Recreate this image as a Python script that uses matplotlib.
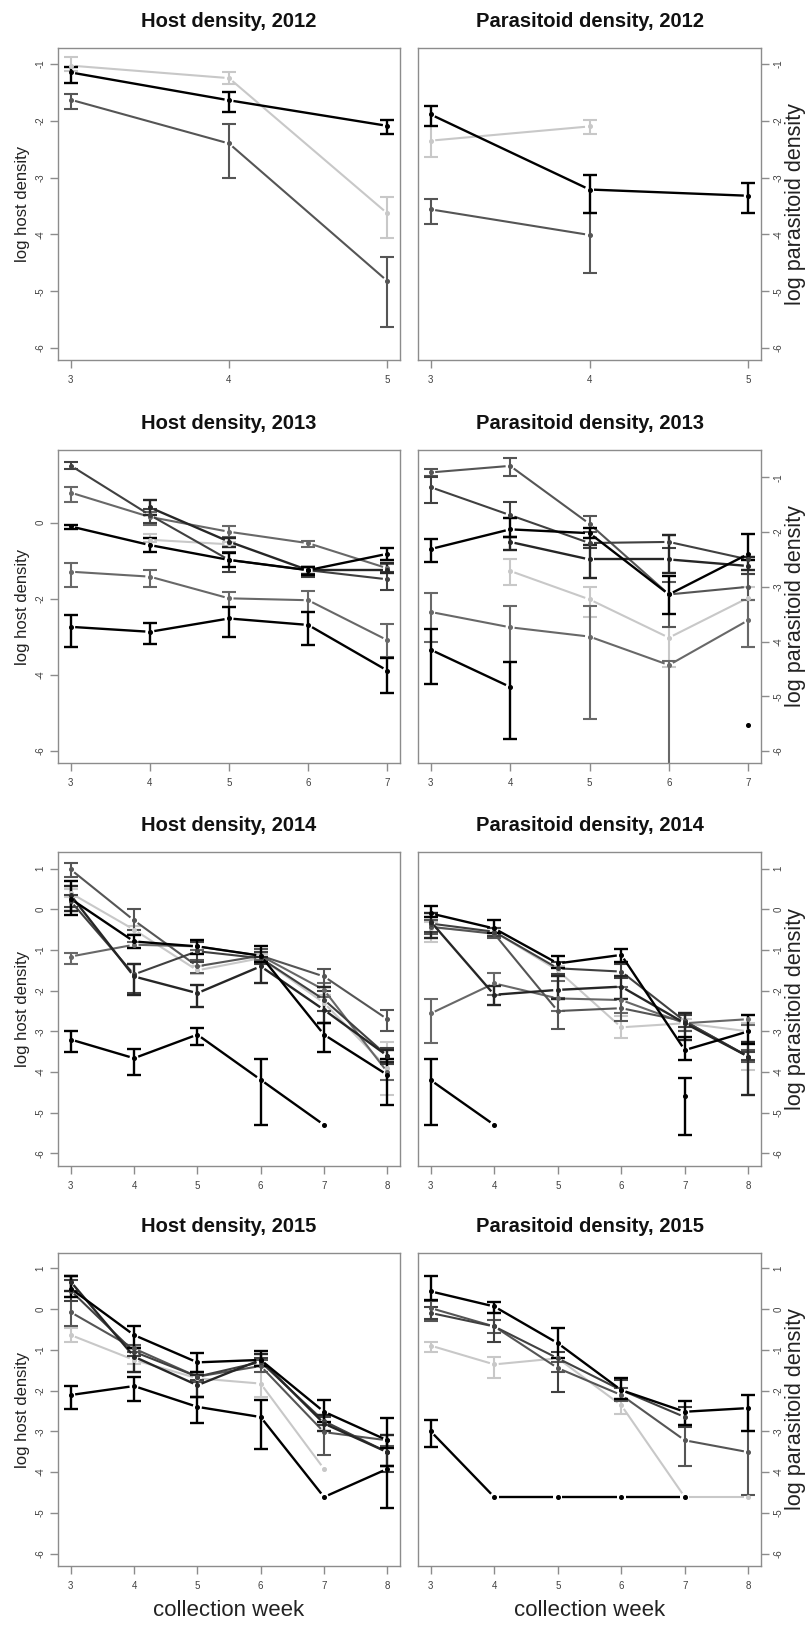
import numpy as np
import matplotlib
matplotlib.use("Agg")
import matplotlib.pyplot as plt
from matplotlib.collections import LineCollection

nan = np.nan
plt.rcParams['font.family'] = ['Liberation Sans', 'DejaVu Sans']
plt.rcParams['axes.unicode_minus'] = False

LIGHT, MED, MID, DARK, VDARK, BLACK = '#c8c8c8', '#686868', '#555555', '#404040', '#262626', '#000000'

# ---------------- 2012 ----------------
H12_weeks = [3, 4, 5]
H12_colors = [LIGHT, MID, BLACK]
H12_mean = [[-1.03, -1.25, -3.63], [-1.63, -2.40, -4.82], [-1.15, -1.64, -2.09]]
H12_lo = [[-1.13, -1.35, -4.07], [-1.80, -3.00, -5.63], [-1.33, -1.84, -2.24]]
H12_hi = [[-0.88, -1.15, -3.35], [-1.53, -2.05, -4.39], [-1.05, -1.49, -1.98]]

P12_weeks = [3, 4, 5]
P12_colors = [LIGHT, MID, BLACK]
P12_mean = [[-2.35, -2.10, nan], [-3.56, -4.01, nan], [-1.89, -3.21, -3.32]]
P12_lo = [[-2.63, -2.23, nan], [-3.82, -4.68, nan], [-2.10, -3.62, -3.62]]
P12_hi = [[-2.10, -1.98, nan], [-3.37, -3.62, nan], [-1.74, -2.95, -3.10]]

# ---------------- 2013 ----------------
H13_weeks = [3, 4, 5, 6, 7]
H13_colors = [LIGHT, MED, MED, DARK, VDARK, BLACK, BLACK]
H13_mean = [[nan, -0.45, -0.57, nan, nan],
            [0.79, 0.15, -0.24, -0.54, -1.20],
            [-1.29, -1.42, -1.99, -2.04, -3.09],
            [1.50, 0.20, -0.98, -1.25, -1.49],
            [nan, 0.40, -0.50, -1.25, -1.25],
            [-0.10, -0.59, -0.98, -1.25, -0.82],
            [-2.74, -2.87, -2.52, -2.69, -3.89]]
H13_lo = [[nan, -0.50, -0.62, nan, nan],
          [0.55, -0.06, -0.37, -0.63, -1.30],
          [-1.68, -1.70, -2.23, -2.34, -3.53],
          [1.40, 0.00, -1.29, -1.42, -1.77],
          [nan, 0.20, -0.63, -1.35, -1.33],
          [-0.18, -0.78, -1.16, -1.38, -0.98],
          [-3.26, -3.20, -3.00, -3.22, -4.49]]
H13_hi = [[nan, -0.30, -0.52, nan, nan],
          [0.95, 0.29, -0.10, -0.47, -1.10],
          [-1.05, -1.25, -1.82, -1.79, -2.67],
          [1.60, 0.35, -0.76, -1.16, -1.30],
          [nan, 0.60, -0.41, -1.16, -1.05],
          [-0.06, -0.41, -0.80, -1.16, -0.66],
          [-2.43, -2.65, -2.23, -2.36, -3.55]]

P13_weeks = [3, 4, 5, 6, 7]
P13_colors = [LIGHT, MID, MED, DARK, VDARK, BLACK, BLACK]
P13_mean = [[nan, -2.71, -3.23, -3.93, -3.20],
            [-0.91, -0.79, -1.85, -3.14, -3.00],
            [-3.46, -3.74, -3.91, -4.43, -3.61],
            [-1.18, -1.69, -2.20, -2.18, -2.50],
            [nan, -2.18, -2.50, -2.50, -2.62],
            [-2.31, -1.95, -2.02, -3.14, -2.40],
            [-4.15, -4.83, nan, nan, -5.53]]
P13_lo = [[nan, -2.97, -3.55, -4.46, -4.10],
          [-0.98, -0.98, -1.99, -3.73, -3.24],
          [-4.00, -4.38, -5.41, -6.40, -4.10],
          [-1.46, -1.75, -2.30, -2.30, -2.76],
          [nan, -2.33, -2.84, -2.74, -2.70],
          [-2.55, -2.09, -2.10, -3.50, -2.51],
          [-4.77, -5.79, nan, nan, nan]]
P13_hi = [[nan, -2.50, -3.00, -3.73, -3.00],
          [-0.85, -0.65, -1.71, -2.91, -2.76],
          [-3.11, -3.35, -3.35, -4.35, -3.24],
          [-0.99, -1.45, -2.10, -2.05, -2.45],
          [nan, -2.09, -2.24, -2.05, -2.45],
          [-2.13, -1.75, -1.92, -2.80, -2.04],
          [-3.77, -4.38, nan, nan, nan]]

# ---------------- 2014 ----------------
H14_weeks = [3, 4, 5, 6, 7, 8]
H14_colors = [LIGHT, MED, MID, DARK, VDARK, BLACK, BLACK]
H14_mean = [[0.40, -0.50, -1.50, -1.20, -2.30, -3.90],
            [-1.16, -0.87, -0.91, -1.14, -1.98, -4.00],
            [0.98, -0.27, -1.40, -1.14, -1.65, -2.70],
            [0.20, -1.60, -1.03, -1.20, -2.22, -3.60],
            [0.35, -1.65, -2.06, -1.40, -2.47, -3.60],
            [0.26, -0.79, -0.91, -1.14, -3.08, -4.07],
            [-3.20, -3.66, -3.08, -4.19, -5.30, nan]]
H14_lo = [[0.30, -0.60, -1.60, -1.30, -2.50, -4.56],
          [-1.34, -0.95, -1.00, -1.25, -2.15, -4.20],
          [0.80, -0.50, -1.57, -1.30, -1.90, -3.00],
          [0.05, -2.05, -1.30, -1.35, -2.50, -3.80],
          [-0.05, -2.10, -2.39, -1.81, -2.80, -3.75],
          [-0.13, -0.95, -1.11, -1.30, -3.50, -4.80],
          [-3.51, -4.07, -3.33, -5.30, nan, nan]]
H14_hi = [[0.50, -0.40, -1.40, -1.10, -2.10, -3.25],
          [-1.07, -0.80, -0.80, -1.05, -1.80, -3.80],
          [1.14, 0.00, -1.24, -0.98, -1.47, -2.48],
          [0.35, -1.35, -0.80, -1.05, -2.00, -3.40],
          [0.57, -1.34, -1.85, -1.16, -1.90, -3.45],
          [0.69, -0.62, -0.75, -0.90, -2.80, -3.68],
          [-3.00, -3.43, -2.92, -3.68, nan, nan]]

P14_weeks = [3, 4, 5, 6, 7, 8]
P14_colors = [LIGHT, MED, MID, DARK, VDARK, BLACK, BLACK]
P14_mean = [[-0.45, -0.55, -1.50, -2.90, -2.80, -3.00],
            [-2.56, -1.82, -2.19, -2.23, -2.80, -2.70],
            [-0.43, -0.60, -2.50, -2.43, -2.75, -3.62],
            [-0.35, -0.55, -1.45, -1.53, -2.75, -3.62],
            [-0.30, -2.10, -1.98, -1.90, -2.80, -3.62],
            [-0.10, -0.47, -1.33, -1.12, -3.46, -3.00],
            [-4.20, -5.30, nan, nan, -4.60, nan]]
P14_lo = [[-0.80, -0.65, -1.60, -3.17, -2.90, -3.95],
          [-3.28, -2.10, -2.50, -2.55, -3.00, -2.85],
          [-0.60, -0.70, -2.93, -2.75, -3.00, -3.75],
          [-0.55, -0.65, -1.60, -1.70, -2.90, -3.70],
          [-0.70, -2.35, -2.20, -2.20, -3.20, -4.56],
          [-0.18, -0.59, -1.45, -1.29, -3.70, -3.30],
          [-5.30, nan, nan, nan, -5.55, nan]]
P14_hi = [[-0.30, -0.45, -1.40, -2.63, -2.70, -2.80],
          [-2.21, -1.57, -1.75, -1.90, -2.60, -2.60],
          [-0.25, -0.45, -2.19, -2.20, -2.55, -3.45],
          [-0.20, -0.45, -1.30, -1.35, -2.60, -3.50],
          [-0.10, -1.89, -1.65, -1.65, -2.55, -3.25],
          [0.08, -0.26, -1.15, -0.98, -3.13, -2.60],
          [-3.68, nan, nan, nan, -4.15, nan]]

# ---------------- 2015 ----------------
H15_weeks = [3, 4, 5, 6, 7, 8]
H15_colors = [LIGHT, MID, DARK, VDARK, BLACK, BLACK]
H15_mean = [[-0.64, -1.25, -1.70, -1.83, -3.92, nan],
            [-0.08, -0.97, -1.66, -1.40, -3.02, -3.22],
            [0.45, -1.05, -1.66, -1.30, -2.75, -3.51],
            [0.67, -1.17, -1.87, -1.25, -2.81, -3.51],
            [0.50, -0.64, -1.31, -1.25, -2.52, -3.22],
            [-2.11, -1.89, -2.40, -2.65, -4.61, -3.92]]
H15_lo = [[-0.80, -1.35, -1.80, -2.16, nan, nan],
          [-0.43, -1.05, -1.80, -1.55, -3.59, -3.35],
          [0.20, -1.15, -1.75, -1.40, -2.85, -4.00],
          [0.43, -1.54, -2.16, -1.40, -3.00, -3.84],
          [0.30, -0.97, -1.54, -1.40, -2.77, -3.40],
          [-2.46, -2.26, -2.80, -3.44, nan, -4.88]]
H15_hi = [[-0.48, -1.15, -1.60, -1.54, nan, nan],
          [0.28, -0.88, -1.55, -1.25, -2.84, -3.10],
          [0.70, -0.95, -1.55, -1.20, -2.65, -3.40],
          [0.81, -0.95, -1.61, -1.10, -2.60, -3.10],
          [0.81, -0.42, -1.07, -1.03, -2.22, -2.67],
          [-1.89, -1.66, -2.16, -2.24, nan, -3.85]]

P15_weeks = [3, 4, 5, 6, 7, 8]
P15_colors = [LIGHT, MID, DARK, BLACK, BLACK]
P15_mean = [[-0.90, -1.36, -1.21, -2.36, -4.61, -4.61],
            [0.02, -0.43, -1.45, -2.11, -3.22, -3.51],
            [-0.10, -0.43, -1.21, -1.99, -2.65, nan],
            [0.43, 0.06, -0.84, -1.99, -2.52, -2.43],
            [-3.00, -4.61, -4.61, -4.61, -4.61, nan]]
P15_lo = [[-1.05, -1.69, nan, -2.57, nan, nan],
          [-0.30, -0.60, -1.55, -2.25, -3.85, -4.57],
          [-0.25, -0.80, -2.03, -2.20, -2.90, nan],
          [0.22, -0.10, -1.21, -2.20, -2.85, -2.99],
          [-3.39, nan, nan, nan, nan, nan]]
P15_hi = [[-0.80, -1.17, nan, -2.20, nan, nan],
          [0.20, -0.27, -1.30, -1.95, -2.84, -2.99],
          [0.05, -0.10, -1.05, -1.75, -2.40, nan],
          [0.80, 0.16, -0.48, -1.69, -2.26, -2.10],
          [-2.73, nan, nan, nan, nan, nan]]

YEARS = ['2012', '2013', '2014', '2015']
HOST = [(H12_weeks, H12_colors, H12_mean, H12_lo, H12_hi),
        (H13_weeks, H13_colors, H13_mean, H13_lo, H13_hi),
        (H14_weeks, H14_colors, H14_mean, H14_lo, H14_hi),
        (H15_weeks, H15_colors, H15_mean, H15_lo, H15_hi)]
PARA = [(P12_weeks, P12_colors, P12_mean, P12_lo, P12_hi),
        (P13_weeks, P13_colors, P13_mean, P13_lo, P13_hi),
        (P14_weeks, P14_colors, P14_mean, P14_lo, P14_hi),
        (P15_weeks, P15_colors, P15_mean, P15_lo, P15_hi)]

# ---------------- layout ----------------
W, H = 807, 1627
fig = plt.figure(figsize=(W / 100, H / 100), dpi=100)
COLS = [(58, 400), (418, 761)]
ROWS = [(48, 360), (450, 763), (852, 1166), (1253, 1566)]
HOST_YLIM = [(-6.21, -0.72), (-6.32, 1.91), (-6.31, 1.41), (-6.30, 1.37)]
PARA_YLIM = [(-6.21, -0.72), (-6.22, -0.50), (-6.31, 1.41), (-6.30, 1.37)]
HOST_YT = [range(-6, 0), range(-6, 1, 2), range(-6, 2), range(-6, 2)]
PARA_YT = [range(-6, 0), range(-6, 0), range(-6, 2), range(-6, 2)]

AXC = '#8c8c8c'
GAP = 4.5


def draw_panel(ax, data, ylim, yticks, right, title, ylabel, bottom):
    weeks, colors, means, los, his = data
    x = np.array(weeks, float)
    span = x[-1] - x[0]
    ax.set_xlim(x[0] - 0.04 * span, x[-1] + 0.04 * span)
    ax.set_ylim(*ylim)
    trans = ax.transData
    inv = trans.inverted()
    for c, m, lo, hi in zip(colors, means, los, his):
        m = np.array(m, float)
        lo = np.array(lo, float)
        hi = np.array(hi, float)
        lw = 1.7 if c in (BLACK, VDARK) else 1.5
        # lines with small gaps at points (R type "b")
        pts = trans.transform(np.column_stack([x, m]))
        segs = []
        for i in range(len(x) - 1):
            if np.isnan(m[i]) or np.isnan(m[i + 1]):
                continue
            p0, p1 = pts[i], pts[i + 1]
            d = p1 - p0
            L = np.hypot(*d)
            if L <= 2 * GAP:
                continue
            u = d / L
            segs.append(inv.transform(np.array([p0 + u * GAP, p1 - u * GAP])))
        ax.add_collection(LineCollection(segs, colors=c, linewidths=lw,
                                         capstyle='butt', zorder=2))
        ok = ~np.isnan(lo) & ~np.isnan(hi) & ~np.isnan(m)
        if ok.any():
            ax.errorbar(x[ok], m[ok], yerr=[m[ok] - lo[ok], hi[ok] - m[ok]],
                        fmt='none', ecolor=c, elinewidth=lw, capsize=5,
                        capthick=lw, zorder=2)
        ax.plot(x, m, 'o', ms=2.6, color=c, mec=c, zorder=3, linestyle='none')
    ax.set_xticks(weeks)
    ax.set_yticks(list(yticks))
    for s in ax.spines.values():
        s.set_color(AXC)
        s.set_linewidth(1.0)
    ax.tick_params(colors=AXC, labelcolor='#404040', labelsize=7,
                   length=6, width=1.0)
    ax.tick_params(axis='x', pad=5)
    ax.tick_params(axis='y', pad=3)
    if right:
        ax.yaxis.tick_right()
        ax.yaxis.set_label_position('right')
    for lab in ax.get_yticklabels():
        lab.set_rotation(90)
        lab.set_verticalalignment('center')
    ax.set_title(title, fontsize=14.5, fontweight='bold', pad=15, color='#111111')
    if right:
        ax.set_ylabel(ylabel, fontsize=15.5, color='#222222', labelpad=1)
    else:
        ax.set_ylabel(ylabel, fontsize=12, color='#222222', labelpad=4)
    if bottom:
        ax.set_xlabel('collection week', fontsize=16, color='#222222', labelpad=6)


for r in range(4):
    top, bot = ROWS[r]
    for ci in range(2):
        x0, x1 = COLS[ci]
        ax = fig.add_axes([x0 / W, 1 - bot / H, (x1 - x0) / W, (bot - top) / H])
        if ci == 0:
            draw_panel(ax, HOST[r], HOST_YLIM[r], HOST_YT[r], False,
                       'Host density, ' + YEARS[r], 'log host density', r == 3)
        else:
            draw_panel(ax, PARA[r], PARA_YLIM[r], PARA_YT[r], True,
                       'Parasitoid density, ' + YEARS[r], 'log parasitoid density', r == 3)

fig.savefig('out.png', dpi=100, facecolor='white')
